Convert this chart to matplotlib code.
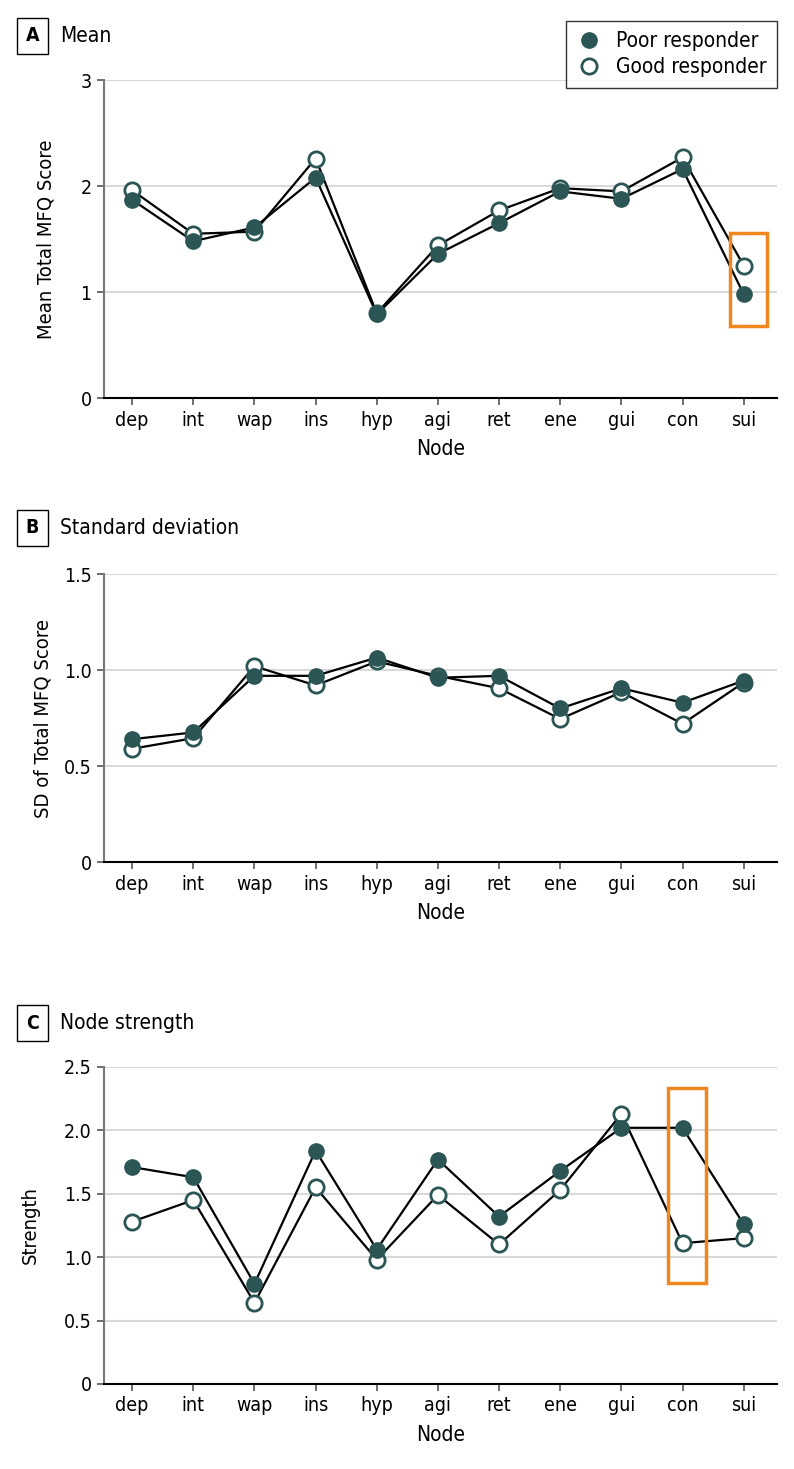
import matplotlib
matplotlib.use('Agg')
import matplotlib.pyplot as plt
from matplotlib.patches import Rectangle
from matplotlib.lines import Line2D

plt.rcParams['font.family'] = ['DejaVu Sans']
plt.rcParams['font.stretch'] = 'condensed'

# Данные
nodes = ['dep', 'int', 'wap', 'ins', 'hyp', 'agi', 'ret', 'ene', 'gui', 'con', 'sui']

mean_poor = [1.87, 1.48, 1.61, 2.08, 0.79, 1.36, 1.65, 1.95, 1.88, 2.16, 0.98]
mean_good = [1.96, 1.55, 1.57, 2.26, 0.80, 1.44, 1.77, 1.98, 1.95, 2.27, 1.25]

sd_poor = [0.64, 0.675, 0.97, 0.97, 1.065, 0.96, 0.97, 0.80, 0.905, 0.83, 0.945]
sd_good = [0.59, 0.645, 1.02, 0.92, 1.045, 0.97, 0.905, 0.745, 0.885, 0.72, 0.935]

str_poor = [1.71, 1.63, 0.79, 1.84, 1.06, 1.77, 1.32, 1.68, 2.02, 2.02, 1.26]
str_good = [1.28, 1.45, 0.64, 1.55, 0.98, 1.49, 1.10, 1.53, 2.13, 1.11, 1.15]

teal = '#2b5655'
orange = '#f0871e'
grid_c = '#d9d9d9'

fig = plt.figure(figsize=(7.94, 14.69), dpi=100)

panels = [
    ('A', 'Mean', 'Mean Total MFQ Score', mean_poor, mean_good,
     [0, 1, 2, 3], ['0', '1', '2', '3'], (0, 3),
     [0.131, 0.729, 0.848, 0.2165], 0.9755, 18),
    ('B', 'Standard deviation', 'SD of Total MFQ Score', sd_poor, sd_good,
     [0, 0.5, 1.0, 1.5], ['0', '0.5', '1.0', '1.5'], (0, 1.5),
     [0.131, 0.4132, 0.848, 0.196], 0.6406, 8),
    ('C', 'Node strength', 'Strength', str_poor, str_good,
     [0, 0.5, 1.0, 1.5, 2.0, 2.5], ['0', '0.5', '1.0', '1.5', '2.0', '2.5'], (0, 2.5),
     [0.131, 0.0579, 0.848, 0.2158], 0.3036, 17),
]

x = list(range(len(nodes)))
axes = []
for letter, title, ylabel, poor, good, yt, ytl, ylim, pos, ty, lpad in panels:
    ax = fig.add_axes(pos)
    axes.append(ax)
    ax.plot(x, good, color='black', lw=1.6, zorder=2)
    ax.plot(x, poor, color='black', lw=1.6, zorder=2)
    ax.plot(x, good, 'o', ms=11, mfc='white', mec=teal, mew=2, zorder=3)
    ax.plot(x, poor, 'o', ms=11, mfc=teal, mec=teal, mew=1, zorder=4)
    ax.set_xlim(-0.46, 10.55)
    ax.set_ylim(*ylim)
    ax.set_xticks(x)
    ax.set_xticklabels(nodes, fontsize=14)
    ax.set_yticks(yt)
    ax.set_yticklabels(ytl, fontsize=14)
    for t in yt[1:]:
        ax.axhline(t, color=grid_c, lw=1.5, zorder=0)
    ax.spines['top'].set_visible(False)
    ax.spines['right'].set_visible(False)
    ax.spines['left'].set_color('#777777')
    ax.spines['left'].set_linewidth(1.5)
    ax.spines['bottom'].set_color('black')
    ax.spines['bottom'].set_linewidth(1.5)
    ax.tick_params(axis='both', colors='#555555', length=5, width=1.2, labelcolor='black', pad=4)
    ax.set_xlabel('Node', fontsize=15, labelpad=7)
    ax.set_ylabel(ylabel, fontsize=14.5, labelpad=lpad)
    # заголовок панели
    fig.text(0.041, ty, letter, fontsize=14, fontweight='bold', ha='center', va='center',
             bbox=dict(boxstyle='square,pad=0.45', fc='white', ec='black', lw=1))
    fig.text(0.0756, ty, title, fontsize=15, ha='left', va='center')

# оранжевые рамки
axes[0].add_patch(Rectangle((9.77, 0.68), 0.61, 0.876, fill=False, ec=orange, lw=2.5, zorder=5))
axes[2].add_patch(Rectangle((8.77, 0.80), 0.61, 1.53, fill=False, ec=orange, lw=2.5, zorder=5))

handles = [Line2D([], [], ls='none', marker='o', ms=11, mfc=teal, mec=teal),
           Line2D([], [], ls='none', marker='o', ms=11, mfc='white', mec=teal, mew=2)]
leg = fig.legend(handles, ['Poor responder', 'Good responder'], loc='upper right',
                 bbox_to_anchor=(0.979, 0.986), borderaxespad=0, fontsize=15, frameon=True,
                 fancybox=False, edgecolor='black', handletextpad=0.7, borderpad=0.5,
                 labelspacing=0.3, handlelength=1.2)
leg.get_frame().set_linewidth(1)

fig.savefig('out.png', dpi=100)
